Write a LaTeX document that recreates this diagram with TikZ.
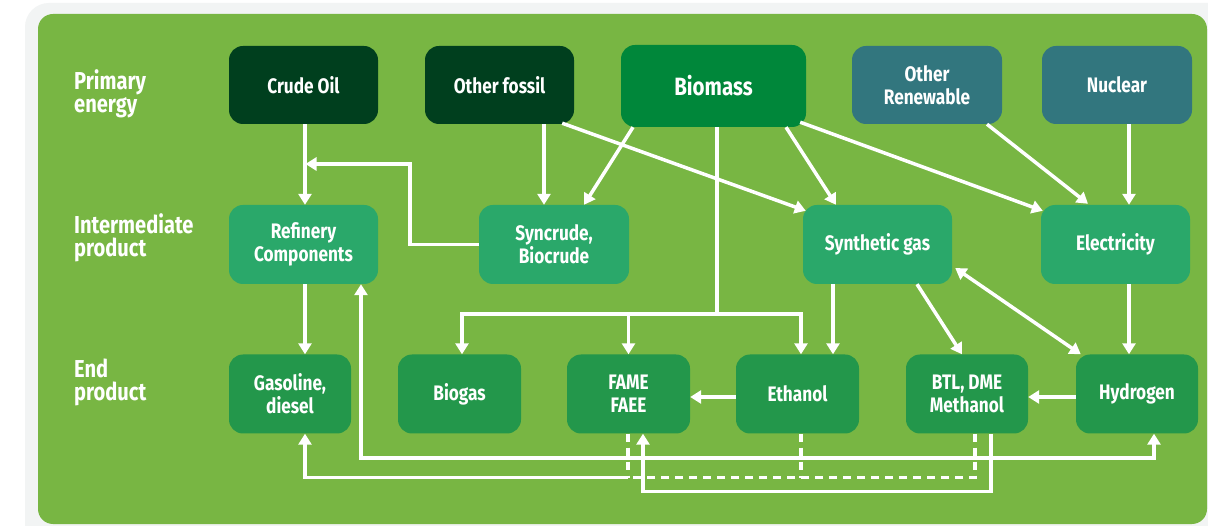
\documentclass[tikz,border=0pt]{standalone}
\usepackage{fontspec}
\setmainfont{Fira Sans}[FakeStretch=0.82]
\usetikzlibrary{arrows.meta,calc}
\definecolor{bggreen}{HTML}{78B643}
\definecolor{framegray}{HTML}{F2F4F4}
\definecolor{darkg}{HTML}{003F1E}
\definecolor{biog}{HTML}{00873A}
\definecolor{tealg}{HTML}{32767E}
\definecolor{interg}{HTML}{2AA86A}
\definecolor{endg}{HTML}{23974B}
\begin{document}
\begin{tikzpicture}[x=1pt,y=-1pt,
  box/.style={rounded corners=14pt, text=white, align=center, inner sep=0pt,
    font=\fontsize{21}{23}\selectfont\bfseries},
  prim/.style={box, minimum height=78pt},
  inter/.style={box, fill=interg, minimum height=79pt},
  endp/.style={box, fill=endg, minimum height=79pt, minimum width=122pt},
  lbl/.style={text=white, align=left, inner sep=0pt, anchor=west,
    font=\fontsize{24.5}{23}\selectfont\bfseries},
  ln/.style={draw=white, line width=3.5pt},
  arr/.style={ln, -{Triangle[width=13pt,length=11pt]}},
  dbl/.style={ln, {Triangle[width=13pt,length=11pt]}-{Triangle[width=13pt,length=11pt]}},
  dsh/.style={ln, dash pattern=on 8pt off 6pt}
]
\useasboundingbox (0,0) rectangle (1208,526);
\fill[white] (0,0) rectangle (1208,526);
\fill[framegray, rounded corners=24pt] (25,3) rectangle (1240,560);
\fill[bggreen, rounded corners=15pt] (38,14) rectangle (1207,524);

% labels
\node[lbl] (lprim) at (74,94) {Primary\\energy};
\node[lbl] (linter) at (74,238) {Intermediate\\product};
\node[lbl] (lend) at (74,382) {End\\product};

% primary
\node[prim, fill=darkg, minimum width=149pt] (crude) at (303.5,85) {Crude Oil};
\node[prim, fill=darkg, minimum width=149pt] (fossil) at (499.5,85) {Other fossil};
\node[box, fill=biog, minimum width=185pt, minimum height=82pt,
  font=\fontsize{25}{27}\selectfont\bfseries] (biomass) at (713.5,86) {Biomass};
\node[prim, fill=tealg, minimum width=150pt] (orenew) at (927,85) {Other\\Renewable};
\node[prim, fill=tealg, minimum width=150pt] (nuclear) at (1117,85) {Nuclear};

% intermediate
\node[inter, minimum width=149pt] (refinery) at (303.5,244.5) {Refinery\\Components};
\node[inter, minimum width=150pt] (syncrude) at (554,244.5) {Syncrude,\\Biocrude};
\node[inter, minimum width=149pt] (syngas) at (877.5,244.5) {Synthetic gas};
\node[inter, minimum width=149pt] (electricity) at (1115.5,244.5) {Electricity};

% end products
\node[endp] (gasoline) at (290,394) {Gasoline,\\diesel};
\node[endp, minimum width=123pt] (biogas) at (459.5,394) {Biogas};
\node[endp, minimum width=123pt] (fame) at (628.5,394) {FAME\\FAEE};
\node[endp, minimum width=123pt] (ethanol) at (797.5,394) {Ethanol};
\node[endp] (btl) at (967,394) {BTL, DME\\Methanol};
\node[endp] (hydrogen) at (1137,394) {Hydrogen};

\coordinate (jog) at (410,164);
\coordinate (bus) at (717,314);

% primary -> intermediate
\draw[arr] ($(crude.south)+(1.5,0)$) -- ($(refinery.north)+(1.5,0)$);
\draw[arr, shorten >=2pt] (syncrude.west) -| (jog) -- (jog -| crude.south);
\draw[arr] ($(fossil.south)+(44.5,0)$) -- ($(syncrude.north)+(-10,0)$);
\draw[arr] ($(biomass.south)+(-80.5,0)$) -- ($(syncrude.north)+(30,0)$);
\draw[arr] ($(fossil.south east)+(-12,-1)$) -- ($(syngas.north west)+(3,6)$);
\draw[arr] ($(biomass.south)+(72.5,0)$) -- ($(syngas.north)+(-41.5,0)$);
\draw[arr] ($(biomass.south east)+(-6,-5)$) -- ($(electricity.north west)+(2,6)$);
\draw[arr] ($(orenew.south)+(60,0)$) -- ($(electricity.north)+(-27.5,-1)$);
\draw[arr] ($(nuclear.south)+(12,0)$) -- ($(electricity.north)+(13.5,0)$);

% biomass bus
\draw[ln] ($(biomass.south)+(3.5,0)$) -- (bus);
\draw[arr] (bus) -| ($(biogas.north)+(2.5,0)$);
\draw[arr] (bus -| fame.north) -- (fame.north);
\draw[arr] (bus) -| ($(ethanol.north)+(3.5,0)$);

% intermediate -> end
\draw[arr] ($(refinery.south)+(1.5,0)$) -- ($(gasoline.north)+(15,0)$);
\draw[arr] ($(syngas.south)+(-44.5,0)$) -- ($(ethanol.north)+(35.5,0)$);
\draw[arr] ($(syngas.south)+(39.5,0)$) -- ($(btl.north)+(-5,0)$);
\draw[dbl] ($(syngas.east)+(3,23.5)$) -- ($(hydrogen.north west)+(5,0)$);
\draw[arr] ($(electricity.south)+(13.5,0)$) -- ($(hydrogen.north)+(-8,0)$);

% end -> end
\draw[arr] ($(ethanol.west)+(0,3)$) -- ($(fame.east)+(0,3)$);
\draw[arr] ($(hydrogen.west)+(0,3)$) -- ($(btl.east)+(0,3)$);

% bottom loops
\draw[dbl] ($(refinery.south)+(57.5,0)$) -- ++(0,174) -| ($(hydrogen.south)+(17,0)$);
\draw[dsh] ($(fame.south)+(-0.5,0)$) -- ++(0,44);
\draw[dsh] ($(ethanol.south)+(3.5,0)$) -- ++(0,44);
\draw[dsh] ($(btl.south)+(8,0)$) |- ($(fame.south)+(-0.5,44)$);
\draw[arr] ($(fame.south)+(-0.5,44)$) -| ($(gasoline.south)+(15,0)$);
\draw[arr] ($(btl.south)+(24,0)$) -- ++(0,58) -| ($(fame.south)+(14.5,0)$);
\end{tikzpicture}
\end{document}
